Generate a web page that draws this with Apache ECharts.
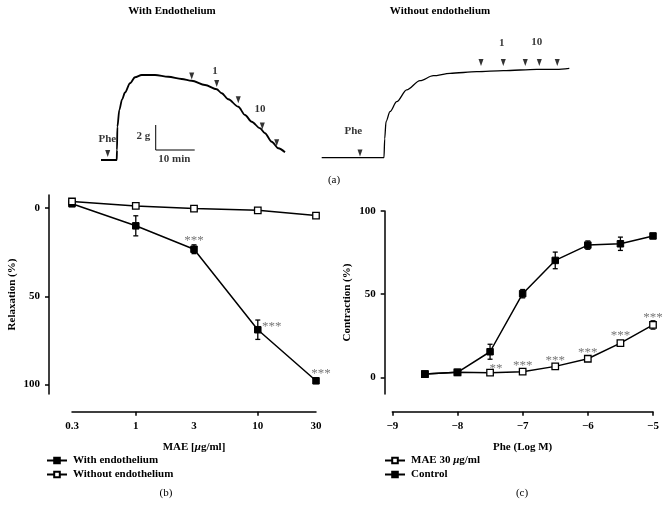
<!DOCTYPE html>
<html><head><meta charset="utf-8">
<script src="https://cdn.jsdelivr.net/npm/echarts@6/dist/echarts.min.js"></script>
<style>html,body{margin:0;padding:0;background:#fff}#c{width:668px;height:516px}</style>
</head><body><div id="c"></div>
<script>
// ---------- Panel (a): isometric tension traces, time (min) vs tension (g)
const traceWith = [[0,0],[4.03,0],[4.1,0.8],[4.2,2.66],[4.7,4.0],[5.4,4.85],[6.15,5.4],[7.44,6.14],[8.72,6.62],[10.44,6.8],[13.85,6.8],[17.26,6.66],[20.69,6.48],[23.26,6.34],[26.67,6.0],[29.67,5.66],[30.95,5.34],[32.64,4.86],[35.21,4.26],[36.92,3.6],[38.64,3.06],[40.77,2.54],[42.05,2.14],[43.77,1.46],[45.46,0.94],[47.18,0.62]];
const traceWithout = [[0,0],[15.97,0],[16.15,1.5],[16.49,2.88],[17.51,3.68],[19.23,4.48],[21.79,5.42],[25.21,6.16],[28.62,6.56],[32.9,6.75],[39.74,6.88],[46.56,6.96],[55.13,7.07],[60.26,7.07],[63.49,7.15]];
const arrowsWith = [[1.72,0.25],[23.26,6.45],[29.67,5.85],[35.2,4.55],[41.36,2.45],[45.05,1.1]];
const arrowsWithout = [[9.82,0.1],[40.85,7.34],[46.56,7.34],[52.2,7.34],[55.8,7.34],[60.4,7.34]];
const labelsWith = [['Phe',1.62,1.68],['1',29.23,7.14],['10',40.77,4.06],['2 g',10.85,1.92],['10 min',18.8,0.06]];
const labelsWithout = [['Phe',8.1,2.16],['1',46.15,9.2],['10',55.13,9.28]];
const scaleBar = [[14.03,2.8],[14.03,0.8],[24.03,0.8]]; // 2 g, 10 min

// ---------- Panel (b): relaxation vs MAE concentration
const bConc = [0.3, 1, 3, 10, 30];
const bWith = [-2.5, 10, 23.3, 69, 98];
const bWithErr = [1.2, 5.7, 2.5, 5.5, 1.5];
const bWithout = [-3.8, -1.3, 0.2, 1.2, 4.2];
const bWithoutErr = [0.5, 0.5, 0.5, 0.5, 1];
const bSig = ['', '', '***', '***', '***'];
const bYTicks = [0, 50, 100];

// ---------- Panel (c): contraction vs Phe (log M)
const cLogM = [-8.5, -8, -7.5, -7, -6.5, -6, -5.5, -5];
const cControl = [2, 3, 15.4, 50.3, 70.3, 79.5, 80.3, 85];
const cControlErr = [0.5, 0.5, 4.5, 2.5, 5, 2.5, 4, 1.5];
const cMAE = [2, 3, 2.8, 3.4, 6.6, 11.2, 20.6, 31.5];
const cMAEErr = [0.5, 0.5, 0.5, 0.5, 1, 1, 1.5, 2.5];
const cSig = ['', '', '**', '***', '***', '***', '***', '***'];
const cYTicks = [0, 50, 100];

const FF = 'Liberation Serif';
const txt = {fontFamily: FF, fontWeight: 'bold', fontSize: 11, color: '#000'};
const rich = {i: {fontFamily: FF, fontWeight: 'bold', fontStyle: 'italic', fontSize: 11, color: '#000'}};

function errRender(params, api) {
  const x = api.value(0), y = api.value(1), e = api.value(2);
  const a = api.coord([x, y - e]), b = api.coord([x, y + e]);
  const cap = 2.5, st = {stroke: '#000', lineWidth: 1.3};
  return {type: 'group', children: [
    {type: 'line', shape: {x1: a[0], y1: a[1], x2: b[0], y2: b[1]}, style: st},
    {type: 'line', shape: {x1: a[0] - cap, y1: a[1], x2: a[0] + cap, y2: a[1]}, style: st},
    {type: 'line', shape: {x1: b[0] - cap, y1: b[1], x2: b[0] + cap, y2: b[1]}, style: st}
  ]};
}

const starStyle = {show: true, position: 'inside', fontFamily: FF, fontSize: 13, color: '#777'};
const bStarOff = [[0,0],[0,0],[0,-9],[14,-3],[5,-7]];
const cStarOff = [[0,0],[0,0],[6,-4],[0,-6],[0,-6],[0,-6],[0,-8],[0,-7]];

const bWithData = bConc.map((c, i) => bSig[i] ? {value: [Math.log10(c), bWith[i]], label: Object.assign({}, starStyle, {formatter: bSig[i], offset: bStarOff[i]})} : [Math.log10(c), bWith[i]]);
const cMAEData = cLogM.map((x, i) => cSig[i] ? {value: [x, cMAE[i]], label: Object.assign({}, starStyle, {formatter: cSig[i], offset: cStarOff[i]})} : [x, cMAE[i]]);

const downTri = 'path://M0,0 L10,0 L5,12 Z';
const hidden = {show: false};

function axisCommon(extra) {
  return Object.assign({
    splitLine: hidden,
    axisLine: {show: true, onZero: false, lineStyle: {color: '#000', width: 1.5}},
    axisTick: {show: true, length: 4, lineStyle: {color: '#000', width: 1.5}},
    axisLabel: Object.assign({}, txt, {margin: 8}),
    nameTextStyle: Object.assign({}, txt, {rich: rich}),
    nameLocation: 'middle'
  }, extra);
}

const chart = echarts.init(document.getElementById('c'), null, {renderer: 'canvas'});
chart.setOption({
  animation: false,
  backgroundColor: '#fff',
  textStyle: {fontFamily: FF},
  grid: [
    {left: 101, top: 60, width: 187.2, height: 100},
    {left: 321.7, top: 57.7, width: 249.6, height: 100},
    {left: 72, top: 195, width: 244, height: 199},
    {left: 392.3, top: 211, width: 260.7, height: 183}
  ],
  xAxis: [
    {gridIndex: 0, type: 'value', min: 0, max: 48, show: false},
    {gridIndex: 1, type: 'value', min: 0, max: 64, show: false},
    axisCommon({gridIndex: 2, type: 'value', min: Math.log10(0.3), max: Math.log10(30), offset: 17.7,
      axisTick: {show: true, length: 4, customValues: [0, 1], lineStyle: {color: '#000', width: 1.5}},
      axisLabel: Object.assign({}, txt, {margin: 9, customValues: bConc.map(c => Math.log10(c)),
        formatter: v => String(Math.round(Math.pow(10, v) * 10) / 10)}),
      name: 'MAE [{i|μ}g/ml]', nameGap: 30}),
    axisCommon({gridIndex: 3, type: 'value', min: -9, max: -5, interval: 1, offset: 17.7,
      axisLabel: Object.assign({}, txt, {margin: 9, formatter: v => (v < 0 ? '\u2212' : '') + Math.abs(v)}),
      name: 'Phe (Log M)', nameGap: 30})
  ],
  yAxis: [
    {gridIndex: 0, type: 'value', min: 0, max: 8, show: false},
    {gridIndex: 1, type: 'value', min: 0, max: 8, show: false},
    axisCommon({gridIndex: 2, type: 'value', inverse: true, min: -7.5, max: 105.5, offset: 23,
      axisTick: {show: true, length: 4, customValues: bYTicks, lineStyle: {color: '#000', width: 1.5}},
      axisLabel: Object.assign({}, txt, {margin: 9, customValues: bYTicks}),
      name: 'Relaxation (%)', nameGap: 31}),
    axisCommon({gridIndex: 3, type: 'value', min: -10, max: 100, offset: 7.6,
      axisTick: {show: true, length: 4, customValues: cYTicks, lineStyle: {color: '#000', width: 1.5}},
      axisLabel: Object.assign({}, txt, {margin: 9, customValues: cYTicks}),
      name: 'Contraction (%)', nameGap: 32})
  ],
  legend: [
    {orient: 'vertical', left: 46, top: 454, padding: 0, itemGap: 1, itemWidth: 20, itemHeight: 7,
     data: ['With endothelium', 'Without endothelium'],
     textStyle: Object.assign({}, txt, {lineHeight: 13, padding: [0, 0, 0, 1]}), selectedMode: false},
    {orient: 'vertical', left: 384, top: 454, padding: 0, itemGap: 1, itemWidth: 20, itemHeight: 7,
     data: ['MAE 30 μg/ml', 'Control'],
     formatter: n => n.replace('μ', '{i|μ}'),
     textStyle: Object.assign({}, txt, {lineHeight: 13, padding: [0, 0, 0, 1], rich: rich}), selectedMode: false}
  ],
  title: [
    {text: 'With Endothelium', left: 172, top: 6, textAlign: 'center', textStyle: txt, padding: 0},
    {text: 'Without endothelium', left: 440, top: 6, textAlign: 'center', textStyle: txt, padding: 0},
    {text: '(a)', left: 334, top: 175, textAlign: 'center', textStyle: {fontFamily: FF, fontSize: 11, fontWeight: 'normal', color: '#000'}, padding: 0},
    {text: '(b)', left: 166, top: 488, textAlign: 'center', textStyle: {fontFamily: FF, fontSize: 11, fontWeight: 'normal', color: '#000'}, padding: 0},
    {text: '(c)', left: 522, top: 488, textAlign: 'center', textStyle: {fontFamily: FF, fontSize: 11, fontWeight: 'normal', color: '#000'}, padding: 0}
  ],
  series: [
    // panel (a)
    {type: 'line', xAxisIndex: 0, yAxisIndex: 0, data: traceWith, showSymbol: false, smooth: 0.3, smoothMonotone: 'x',
     lineStyle: {color: '#000', width: 1.8}, clip: false, silent: true},
    {type: 'line', xAxisIndex: 1, yAxisIndex: 1, data: traceWithout, showSymbol: false, smooth: 0.3, smoothMonotone: 'x',
     lineStyle: {color: '#000', width: 1.3}, clip: false, silent: true},
    {type: 'line', xAxisIndex: 0, yAxisIndex: 0, data: scaleBar, showSymbol: false,
     lineStyle: {color: '#000', width: 1}, clip: false, silent: true},
    {type: 'scatter', xAxisIndex: 0, yAxisIndex: 0, data: arrowsWith, symbol: downTri, symbolSize: [5, 7], symbolOffset: [0, -3.5],
     itemStyle: {color: '#000'}, clip: false, silent: true},
    {type: 'scatter', xAxisIndex: 1, yAxisIndex: 1, data: arrowsWithout, symbol: downTri, symbolSize: [5, 7], symbolOffset: [0, -3.5],
     itemStyle: {color: '#000'}, clip: false, silent: true},
    {type: 'scatter', xAxisIndex: 0, yAxisIndex: 0, symbolSize: 0, clip: false, silent: true,
     data: labelsWith.map(l => ({value: [l[1], l[2]], label: {show: true, position: 'inside', formatter: l[0], ...txt}}))},
    {type: 'scatter', xAxisIndex: 1, yAxisIndex: 1, symbolSize: 0, clip: false, silent: true,
     data: labelsWithout.map(l => ({value: [l[1], l[2]], label: {show: true, position: 'inside', formatter: l[0], ...txt}}))},
    // panel (b)
    {type: 'custom', name: 'errB1', xAxisIndex: 2, yAxisIndex: 2, renderItem: errRender, z: 3,
     data: bConc.map((c, i) => [Math.log10(c), bWith[i], bWithErr[i]])},
    {type: 'line', name: 'With endothelium', xAxisIndex: 2, yAxisIndex: 2, data: bWithData, z: 4,
     symbol: 'rect', symbolSize: 6.5, showSymbol: true, lineStyle: {color: '#000', width: 1.5},
     itemStyle: {color: '#000', borderColor: '#000', borderWidth: 1}},
    {type: 'custom', name: 'errB2', xAxisIndex: 2, yAxisIndex: 2, renderItem: errRender, z: 5,
     data: bConc.map((c, i) => [Math.log10(c), bWithout[i], bWithoutErr[i]])},
    {type: 'line', name: 'Without endothelium', xAxisIndex: 2, yAxisIndex: 2, data: bConc.map((c, i) => [Math.log10(c), bWithout[i]]), z: 6,
     symbol: 'rect', symbolSize: 6.5, showSymbol: true, lineStyle: {color: '#000', width: 1.5},
     itemStyle: {color: '#fff', borderColor: '#000', borderWidth: 1.3}},
    // panel (c)
    {type: 'custom', name: 'errC1', xAxisIndex: 3, yAxisIndex: 3, renderItem: errRender, z: 3,
     data: cLogM.map((x, i) => [x, cMAE[i], cMAEErr[i]])},
    {type: 'line', name: 'MAE 30 μg/ml', xAxisIndex: 3, yAxisIndex: 3, data: cMAEData, z: 4,
     symbol: 'rect', symbolSize: 6.5, showSymbol: true, lineStyle: {color: '#000', width: 1.5},
     itemStyle: {color: '#fff', borderColor: '#000', borderWidth: 1.3}},
    {type: 'custom', name: 'errC2', xAxisIndex: 3, yAxisIndex: 3, renderItem: errRender, z: 5,
     data: cLogM.map((x, i) => [x, cControl[i], cControlErr[i]])},
    {type: 'line', name: 'Control', xAxisIndex: 3, yAxisIndex: 3, data: cLogM.map((x, i) => [x, cControl[i]]), z: 6,
     symbol: 'rect', symbolSize: 6.5, showSymbol: true, lineStyle: {color: '#000', width: 1.5},
     itemStyle: {color: '#000', borderColor: '#000', borderWidth: 1}}
  ]
});
</script></body></html>
